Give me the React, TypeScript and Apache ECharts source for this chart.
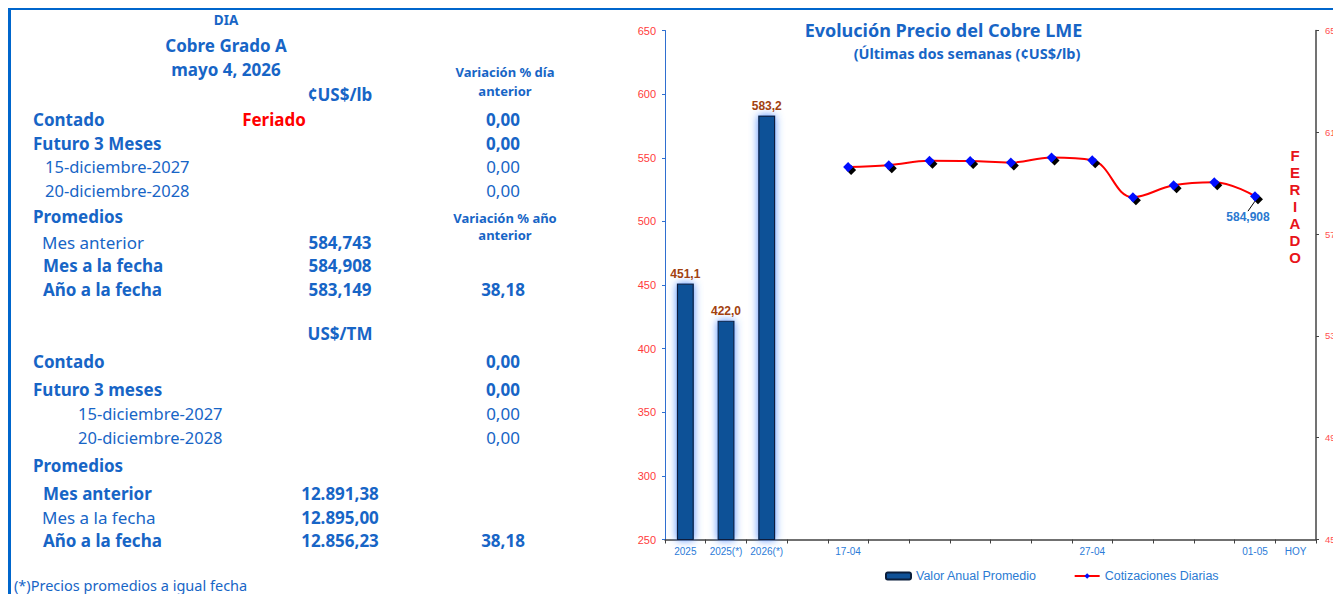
import React, { useEffect, useRef } from "react";
import * as echarts from "echarts";

// ---------- DATA ----------
const categories = ["2025", "2025(*)", "2026(*)", "sep", "17-04", "20-04", "21-04", "22-04", "23-04", "24-04", "27-04", "28-04", "29-04", "30-04", "01-05", "HOY"];
const shownLabels = ["2025", "2025(*)", "2026(*)", "17-04", "27-04", "01-05", "HOY"];
const annualValues = [451.1, 422.0, 583.2, null, null, null, null, null, null, null, null, null, null, null, null, null];
const dailyValues = [null, null, null, null, 596.4, 597.1, 598.8, 598.7, 598.1, 600.1, 599.0, 584.5, 589.2, 590.4, 584.908, null];
const leftAxisTicks = [250, 300, 350, 400, 450, 500, 550, 600, 650];
const rightAxisTicks = [450, 490, 530, 570, 610, 650];
const labelledDailyIndex = 14;

const chartTitle = "Evolución Precio del Cobre LME";
const chartSubtitle = "(Últimas dos semanas (¢US$/lb)";
const holidayWord = "FERIADO";
const seriesNames = ["Valor Anual Promedio", "Cotizaciones Diarias"];

const headerLines = ["DIA", "Cobre Grado A", "mayo 4, 2026"];
const unitLb = "¢US$/lb";
const unitTm = "US$/TM";
const varDayHeader = ["Variación % día", "anterior"];
const varYearHeader = ["Variación % año", "anterior"];

const lbLabels = ["Contado", "Futuro 3 Meses", "15-diciembre-2027", "20-diciembre-2028", "Promedios", "Mes anterior", "Mes a la fecha", "Año a la fecha"];
const lbValues = ["Feriado", "", "", "", "", "584,743", "584,908", "583,149"];
const lbVariation = ["0,00", "0,00", "0,00", "0,00", "", "", "", "38,18"];

const tmLabels = ["Contado", "Futuro 3 meses", "15-diciembre-2027", "20-diciembre-2028", "Promedios", "Mes anterior", "Mes a la fecha", "Año a la fecha"];
const tmValues = ["", "", "", "", "", "12.891,38", "12.895,00", "12.856,23"];
const tmVariation = ["0,00", "0,00", "0,00", "0,00", "", "", "", "38,18"];

const footnote = "(*)Precios promedios a igual fecha";

// ---------- LAYOUT / STYLE ----------
const BLUE = "#1765c6";
const TFONT = "'Noto Sans', sans-serif";
const AFONT = "'Liberation Sans', Arial, sans-serif";

const lbRowY = [111, 135, 158, 182, 208, 234, 257, 281];
const tmRowY = [353, 381, 405, 429, 457, 485, 509, 532];
const lbLabelX = [25, 25, 37, 37, 25, 34, 35, 35];
const tmLabelX = [25, 25, 70, 70, 25, 35, 34, 35];
const lbLabelBold = [true, true, false, false, true, false, true, true];
const tmLabelBold = [true, true, false, false, true, true, false, true];
const varBold = [true, true, false, false, false, false, false, true];

function txt(x: number, y: number, text: string, o: any = {}) {
  return {
    type: "text",
    x,
    y,
    silent: true,
    style: {
      text,
      fill: o.fill || BLUE,
      fontSize: o.size || 17,
      fontWeight: o.bold ? "bold" : "normal",
      fontFamily: o.family || TFONT,
      textAlign: o.align || "left",
      textVerticalAlign: "middle",
      align: o.align || "left",
      verticalAlign: "middle",
      lineHeight: o.lineHeight,
    },
  };
}

function buildGraphics() {
  const g: any[] = [];
  g.push(txt(218, 12, headerLines[0], { bold: true, size: 13.5, align: "center" }));
  g.push(txt(218, 37, headerLines[1], { bold: true, size: 17, align: "center" }));
  g.push(txt(218, 61, headerLines[2], { bold: true, size: 17, align: "center" }));
  g.push(txt(332, 86, unitLb, { bold: true, size: 17, align: "center" }));
  g.push(txt(497, 64, varDayHeader[0], { bold: true, size: 13, align: "center" }));
  g.push(txt(497, 82.5, varDayHeader[1], { bold: true, size: 13, align: "center" }));
  g.push(txt(497, 210, varYearHeader[0], { bold: true, size: 13, align: "center" }));
  g.push(txt(497, 227, varYearHeader[1], { bold: true, size: 13, align: "center" }));
  lbLabels.forEach((l, i) => {
    const isDate = i === 2 || i === 3;
    g.push(txt(lbLabelX[i], lbRowY[i], l, { bold: lbLabelBold[i], size: isDate ? 16.5 : 17 }));
    if (lbValues[i]) {
      const red = lbValues[i] === "Feriado";
      g.push(txt(red ? 266 : 332, lbRowY[i], lbValues[i], { bold: true, size: 17, align: "center", fill: red ? "#ff0000" : BLUE }));
    }
    if (lbVariation[i]) g.push(txt(495, lbRowY[i], lbVariation[i], { bold: varBold[i], size: 17, align: "center" }));
  });
  g.push(txt(332, 325, unitTm, { bold: true, size: 17, align: "center" }));
  tmLabels.forEach((l, i) => {
    const isDate = i === 2 || i === 3;
    g.push(txt(tmLabelX[i], tmRowY[i], l, { bold: tmLabelBold[i], size: isDate ? 16.5 : 17 }));
    if (tmValues[i]) g.push(txt(332, tmRowY[i], tmValues[i], { bold: true, size: 17, align: "center" }));
    if (tmVariation[i]) g.push(txt(495, tmRowY[i], tmVariation[i], { bold: varBold[i], size: 17, align: "center" }));
  });
  g.push(txt(6, 576.5, footnote, { size: 14.5 }));
  // chart titles
  g.push(txt(935.5, 22, chartTitle, { bold: true, size: 18, align: "center" }));
  g.push(txt(959, 45, chartSubtitle, { bold: true, size: 14.5, align: "center" }));
  // holiday marker
  g.push({
    type: "text",
    x: 1287,
    y: 138.5,
    silent: true,
    style: {
      text: holidayWord.split("").join("\n"),
      fill: "#e8141a",
      fontSize: 15,
      fontWeight: "bold",
      fontFamily: AFONT,
      lineHeight: 17,
      textAlign: "center",
      align: "center",
    },
  });
  return g;
}

const dailyData = dailyValues.map((v, i) =>
  i === labelledDailyIndex ? { value: v, label: { show: true } } : v
);

const option: any = {
  animation: false,
  backgroundColor: "#ffffff",
  grid: { left: 657, right: 25, top: 22.5, bottom: 54.5, containLabel: false, outerBoundsMode: "none" },
  legend: {
    data: seriesNames,
    left: 877,
    top: 561.5,
    padding: 0,
    itemWidth: 25,
    itemHeight: 7,
    itemGap: 37,
    textStyle: { color: "#2b7bd3", fontSize: 12.5, fontFamily: AFONT },
  },
  xAxis: {
    type: "category",
    data: categories,
    boundaryGap: true,
    axisLine: { lineStyle: { color: "#404040", width: 1.5 } },
    axisTick: { show: true, interval: 0, length: 4, lineStyle: { color: "#404040" } },
    axisLabel: {
      interval: 0,
      margin: 7,
      color: "#2b7bd8",
      fontSize: 10,
      fontFamily: AFONT,
      formatter: (v: string) => (shownLabels.includes(v) ? v : ""),
    },
    splitLine: { show: false },
  },
  yAxis: [
    {
      type: "value",
      position: "left",
      min: leftAxisTicks[0],
      max: leftAxisTicks[leftAxisTicks.length - 1],
      interval: leftAxisTicks[1] - leftAxisTicks[0],
      axisLine: { show: true, lineStyle: { color: "#2f6fd0", width: 1 } },
      axisTick: { show: true, length: 3, lineStyle: { color: "#2f6fd0" } },
      axisLabel: { color: "#ff3b3b", fontSize: 11, margin: 9, fontFamily: AFONT },
      splitLine: { show: false },
    },
    {
      type: "value",
      position: "right",
      min: rightAxisTicks[0],
      max: rightAxisTicks[rightAxisTicks.length - 1],
      axisLine: { show: true, lineStyle: { color: "#444444", width: 1.5 } },
      axisTick: { show: true, length: 3, lineStyle: { color: "#444444" }, customValues: rightAxisTicks },
      axisLabel: { color: "#ff5050", fontSize: 9.5, margin: 9, fontFamily: AFONT, customValues: rightAxisTicks },
      splitLine: { show: false },
    },
  ],
  series: [
    {
      type: "bar",
      name: seriesNames[0],
      yAxisIndex: 0,
      data: annualValues,
      barWidth: 17,
      itemStyle: {
        color: "#0f5197",
        borderColor: "#0a1e3c",
        borderWidth: 1.2,
        shadowColor: "rgba(60,130,255,0.9)",
        shadowBlur: 8,
      },
      label: {
        show: true,
        position: "top",
        distance: 4,
        color: "#a2410f",
        fontWeight: "bold",
        fontSize: 12,
        fontFamily: AFONT,
        formatter: (p: any) => Number(p.value).toFixed(1).replace(".", ","),
      },
    },
    {
      type: "line",
      name: seriesNames[1],
      yAxisIndex: 1,
      data: dailyData,
      smooth: 0.4,
      connectNulls: false,
      symbol: "diamond",
      symbolSize: 10,
      lineStyle: { color: "#ff0000", width: 2 },
      itemStyle: {
        color: "#0010ff",
        shadowColor: "#000000",
        shadowOffsetX: 3,
        shadowOffsetY: 3,
        shadowBlur: 0,
      },
      label: {
        show: false,
        position: "bottom",
        distance: 5,
        color: "#2a78d0",
        fontWeight: "bold",
        fontSize: 12,
        fontFamily: AFONT,
        formatter: (p: any) => Number(p.value).toFixed(3).replace(".", ","),
      },
      labelLine: { show: true, lineStyle: { color: "#000000", width: 1 } },
      labelLayout: { dx: -7, dy: 5 },
    },
  ],
  graphic: buildGraphics(),
};

export default function App() {
  const ref = useRef<HTMLDivElement>(null);
  useEffect(() => {
    document.documentElement.style.overflow = "hidden";
    document.body.style.overflow = "hidden";
    const chart = echarts.init(ref.current!, null, { renderer: "svg" });
    chart.setOption(option);
    return () => chart.dispose();
  }, []);
  return (
    <div style={{ position: "relative", width: 1333, height: 586 }}>
      <div ref={ref} style={{ position: "absolute", left: 0, top: 0, width: 1333, height: 586 }} />
      <div style={{ position: "absolute", left: 0, top: -1, width: 1333, height: 3, background: "#0066cc" }} />
      <div style={{ position: "absolute", left: 0, top: -1, width: 3, height: 587, background: "#0066cc" }} />
    </div>
  );
}
